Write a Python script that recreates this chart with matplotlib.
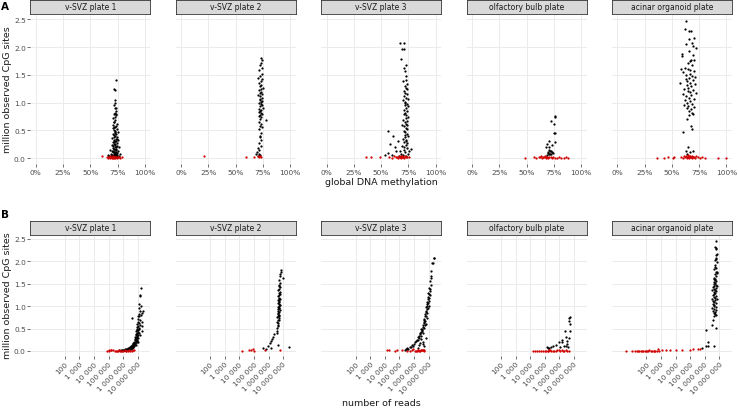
import matplotlib
matplotlib.use("Agg")
import matplotlib.pyplot as plt
from matplotlib.ticker import FixedLocator, NullLocator
import numpy as np

# ---------------- data ----------------
plates = ["v-SVZ plate 1", "v-SVZ plate 2", "v-SVZ plate 3",
          "olfactory bulb plate", "acinar organoid plate"]

# ---- v-SVZ plate 1 : passing cells (methylation %, million CpG, log10 reads)
p1_meth_ok = [73.5, 72.0, 73.0, 72.5, 72.8, 71.8, 73.8, 72.2, 73.5, 71.5, 74.0, 72.5, 70.5, 73.0,
              72.0, 74.5, 71.0, 73.2, 72.6, 70.8, 74.2, 71.9, 73.0, 75.0, 72.3, 70.5, 73.6, 71.4,
              72.8, 74.6, 72.0, 70.2, 73.3, 71.7, 75.5, 72.5, 73.9, 70.9, 72.1, 74.2, 71.3, 73.0,
              69.8, 72.7, 74.8, 71.0, 73.4, 72.2, 70.4, 74.0, 71.8, 73.1, 72.5, 69.5, 75.8, 71.2,
              73.7, 72.0, 70.6, 74.4, 72.9, 71.5, 68.8, 73.5, 72.3, 70.0, 74.9, 71.9, 73.2, 69.2,
              72.6, 76.5, 71.0, 73.8, 67.5, 72.2, 70.3, 74.5, 65.8, 77.0, 76.0, 68.5, 74.5, 72.0,
              73.0, 71.5, 74.0, 73.0]
p1_cpg_ok = [1.41, 1.25, 1.22, 1.05, 1.00, 0.95, 0.90, 0.82, 0.80, 0.79, 0.77, 0.74, 0.72, 0.68,
             0.65, 0.62, 0.60, 0.58, 0.56, 0.54, 0.52, 0.50, 0.49, 0.47, 0.46, 0.44, 0.43, 0.41,
             0.40, 0.38, 0.37, 0.36, 0.35, 0.33, 0.32, 0.31, 0.30, 0.29, 0.28, 0.27, 0.26, 0.25,
             0.24, 0.23, 0.22, 0.21, 0.20, 0.19, 0.18, 0.17, 0.16, 0.15, 0.14, 0.13, 0.13, 0.12,
             0.11, 0.10, 0.10, 0.09, 0.09, 0.08, 0.08, 0.07, 0.07, 0.06, 0.06, 0.05, 0.05, 0.04,
             0.04, 0.04, 0.03, 0.03, 0.03, 0.02, 0.02, 0.02, 0.05, 0.08, 0.20, 0.15, 0.35, 0.55,
             0.45, 0.65, 0.85, 0.90]
p1_lreads_ok = [7.23, 7.18, 7.15, 7.12, 7.20, 7.08, 7.14, 7.10, 7.22, 7.05, 7.12, 6.60, 7.00, 7.15,
                7.05, 7.10, 6.98, 7.18, 7.02, 6.95, 7.08, 6.97, 7.12, 7.05, 6.92, 6.90, 7.00, 6.95,
                7.08, 6.98, 6.88, 6.85, 7.02, 6.93, 6.96, 6.82, 7.05, 6.87, 6.95, 6.90, 6.80, 6.98,
                6.78, 6.88, 6.94, 6.75, 6.85, 6.92, 6.70, 6.82, 6.65, 6.78, 6.72, 6.60, 6.85, 6.62,
                6.75, 6.55, 6.68, 6.70, 6.50, 6.45, 6.60, 6.62, 6.35, 6.40, 6.58, 6.25, 6.48, 6.20,
                6.30, 6.55, 6.05, 6.15, 6.00, 5.85, 5.70, 5.95, 6.10, 6.65, 6.99, 6.72, 7.15, 7.30,
                7.28, 7.32, 7.30, 7.38]
p1_meth_fail = [60.5, 65.0, 66.5, 67.5, 68.0, 69.0, 69.5, 70.0, 70.5, 71.0, 71.5, 72.0, 72.5, 73.0,
                73.5, 74.0, 74.5, 75.0, 76.0, 77.0, 79.0, 68.5, 70.8, 72.8]
p1_cpg_fail = [0.03, 0.01, 0.00, 0.02, 0.00, 0.01, 0.00, 0.02, 0.00, 0.01, 0.00, 0.02, 0.01, 0.00,
               0.02, 0.01, 0.00, 0.02, 0.01, 0.00, 0.01, 0.03, 0.03, 0.02]
p1_lreads_fail = [5.20, 4.90, 5.05, 5.30, 5.45, 5.55, 5.65, 5.75, 5.85, 5.95, 6.00, 6.10, 6.20, 6.30,
                  6.40, 6.50, 6.60, 6.75, 5.50, 6.20, 5.80, 5.15, 5.00, 6.65]

# ---- v-SVZ plate 2
p2_meth_ok = [73.0, 74.0, 73.5, 72.0, 74.5, 71.5, 73.8, 72.5, 70.5, 74.2, 72.8, 71.2, 73.5, 72.0,
              74.6, 72.9, 71.6, 73.3, 72.2, 74.0, 70.8, 72.7, 73.9, 71.9, 72.5, 74.4, 73.1, 71.3,
              72.8, 73.7, 72.1, 74.8, 71.7, 73.4, 72.4, 70.9, 73.0, 74.1, 72.6, 71.5, 73.6, 72.0,
              78.0, 71.0, 73.2, 72.3, 73.8, 71.8, 72.9, 72.5, 72.0, 73.0, 71.5, 72.8, 70.5, 71.0,
              69.5, 68.5, 72.5, 70.0, 71.8]
p2_cpg_ok = [1.80, 1.76, 1.72, 1.68, 1.62, 1.58, 1.52, 1.48, 1.45, 1.42, 1.38, 1.35, 1.32, 1.29,
             1.27, 1.24, 1.22, 1.19, 1.17, 1.15, 1.13, 1.11, 1.09, 1.07, 1.05, 1.03, 1.01, 0.99,
             0.97, 0.95, 0.93, 0.91, 0.89, 0.87, 0.85, 0.83, 0.81, 0.79, 0.77, 0.75, 0.73, 0.70,
             0.68, 0.65, 0.62, 0.58, 0.55, 0.52, 0.45, 0.40, 0.38, 0.32, 0.27, 0.22, 0.18, 0.14,
             0.10, 0.07, 0.06, 0.04, 0.08]
p2_lreads_ok = [6.82, 6.85, 6.80, 6.78, 7.00, 6.75, 6.80, 6.72, 6.70, 6.78, 6.74, 6.68, 6.76, 6.70,
                6.80, 6.72, 6.66, 6.74, 6.69, 6.77, 6.64, 6.71, 6.75, 6.67, 6.70, 6.78, 6.73, 6.65,
                6.69, 6.74, 6.66, 6.76, 6.63, 6.71, 6.68, 6.62, 6.70, 6.74, 6.66, 6.60, 6.72, 6.64,
                6.70, 6.58, 6.68, 6.62, 6.66, 6.56, 6.60, 6.55, 6.39, 6.30, 6.23, 6.14, 6.08, 6.67,
                5.95, 5.62, 6.20, 5.80, 7.41]
p2_meth_fail = [20.5, 59.5, 67.0, 70.5, 71.5, 72.5, 73.0]
p2_cpg_fail = [0.03, 0.01, 0.02, 0.04, 0.02, 0.03, 0.01]
p2_lreads_fail = [4.65, 4.15, 4.83, 4.95, 5.75, 6.77, 5.00]

# ---- v-SVZ plate 3
p3_meth_ok = [67.0, 70.7, 69.5, 71.0, 68.6, 73.0, 71.0, 72.3, 73.0, 72.5, 70.5, 73.5, 71.5, 72.8,
              74.0, 70.8, 72.2, 73.6, 71.3, 72.9, 74.5, 70.2, 72.0, 73.3, 71.7, 74.2, 72.5, 70.9,
              73.8, 72.1, 71.2, 73.0, 74.8, 72.4, 70.4, 73.5, 71.8, 72.9, 74.0, 71.0, 72.6, 73.9,
              70.7, 72.2, 56.0, 73.4, 71.5, 61.0, 74.6, 72.0, 70.0, 73.1, 65.5, 71.2, 74.0, 58.6,
              72.5, 69.0, 62.5, 73.6, 77.8, 70.8, 63.8, 76.0, 72.0, 56.0, 68.0, 74.5, 54.0, 70.5,
              66.0, 72.8, 60.0, 67.5, 71.0, 73.0, 69.5, 72.0]
p3_cpg_ok = [2.07, 2.07, 1.96, 1.96, 1.78, 1.68, 1.63, 1.57, 1.48, 1.41, 1.38, 1.33, 1.30, 1.27,
             1.24, 1.21, 1.18, 1.15, 1.12, 1.09, 1.06, 1.04, 1.01, 0.98, 0.95, 0.93, 0.90, 0.87,
             0.85, 0.82, 0.79, 0.77, 0.74, 0.72, 0.69, 0.67, 0.64, 0.62, 0.59, 0.57, 0.54, 0.52,
             0.49, 0.47, 0.49, 0.44, 0.42, 0.40, 0.39, 0.37, 0.34, 0.33, 0.31, 0.29, 0.27, 0.25,
             0.24, 0.22, 0.19, 0.18, 0.16, 0.15, 0.13, 0.13, 0.11, 0.09, 0.08, 0.07, 0.06, 0.05,
             0.04, 0.03, 0.05, 0.12, 0.20, 0.30, 0.60, 1.00]
p3_lreads_ok = [7.34, 7.36, 7.25, 7.28, 7.18, 7.15, 7.20, 7.10, 7.14, 7.05, 7.12, 7.08, 6.98, 7.02,
                7.10, 6.95, 7.00, 6.93, 7.04, 6.90, 6.98, 6.88, 6.92, 6.85, 6.95, 6.88, 6.80, 6.84,
                6.90, 6.78, 6.75, 6.82, 6.86, 6.70, 6.72, 6.76, 6.66, 6.68, 6.74, 6.60, 6.62, 6.70,
                6.52, 6.58, 6.45, 6.55, 6.48, 6.40, 6.62, 6.42, 6.38, 6.50, 6.30, 6.35, 6.45, 6.20,
                6.28, 6.15, 6.05, 6.40, 6.60, 6.00, 5.90, 6.35, 5.95, 5.70, 5.80, 6.25, 5.55, 5.60,
                5.45, 5.40, 5.50, 6.70, 6.65, 6.80, 6.85, 7.02]
p3_meth_fail = [36.5, 40.5, 49.0, 57.0, 60.0, 62.0, 63.5, 64.5, 65.5, 66.5, 67.0, 67.5, 68.0, 68.5,
                69.0, 69.5, 70.0, 70.5, 71.0, 72.0, 73.0, 74.0, 76.0]
p3_cpg_fail = [0.02, 0.02, 0.01, 0.02, 0.00, 0.03, 0.01, 0.02, 0.00, 0.03, 0.01, 0.02, 0.04, 0.00,
               0.02, 0.03, 0.01, 0.02, 0.00, 0.03, 0.02, 0.01, 0.02]
p3_lreads_fail = [4.15, 4.26, 4.72, 4.83, 5.50, 5.84, 6.07, 6.30, 6.40, 6.63, 6.70, 5.20, 5.95, 6.20,
                  6.45, 6.55, 6.35, 6.60, 6.15, 6.50, 6.68, 5.70, 6.25]

# ---- olfactory bulb plate
p4_meth_ok = [76.3, 76.0, 72.5, 75.3, 74.8, 76.0, 70.7, 76.0, 69.0, 73.8, 67.7, 70.5, 71.0, 71.5,
              72.5, 70.0, 73.0, 69.5, 71.8, 72.8, 70.8, 74.0, 68.5]
p4_cpg_ok = [0.76, 0.73, 0.66, 0.61, 0.45, 0.45, 0.31, 0.28, 0.25, 0.23, 0.19, 0.19, 0.15, 0.13,
             0.12, 0.11, 0.10, 0.09, 0.08, 0.08, 0.07, 0.09, 0.06]
p4_lreads_ok = [6.73, 6.68, 6.64, 6.70, 6.38, 6.72, 6.45, 6.68, 6.16, 6.55, 6.00, 6.20, 6.52, 5.80,
                6.45, 5.58, 6.30, 5.40, 5.13, 6.05, 5.30, 6.62, 5.25]
p4_meth_fail = [49.0, 57.0, 59.0, 61.0, 62.0, 63.0, 64.0, 65.0, 66.0, 67.0, 67.5, 68.0, 69.0, 70.0,
                71.0, 72.0, 73.0, 74.0, 76.0, 78.0, 80.0, 82.0, 84.0, 86.0, 88.0]
p4_cpg_fail = [0.00, 0.01, 0.00, 0.02, 0.01, 0.03, 0.00, 0.02, 0.01, 0.03, 0.00, 0.02, 0.01, 0.00,
               0.02, 0.01, 0.00, 0.01, 0.00, 0.00, 0.01, 0.00, 0.00, 0.01, 0.00]
p4_lreads_fail = [4.17, 5.25, 4.50, 5.85, 4.75, 5.30, 5.00, 6.15, 5.45, 5.35, 4.35, 6.45, 5.65, 4.60,
                  5.95, 5.10, 6.68, 5.55, 4.90, 6.25, 5.75, 5.20, 6.35, 6.05, 6.55]

# ---- acinar organoid plate
p5_meth_ok = [63.3, 62.4, 65.7, 67.9, 70.3, 66.0, 68.5, 69.0, 72.3, 66.0, 59.2, 59.6, 69.0, 67.5,
              70.5, 65.0, 68.0, 62.0, 58.0, 64.5, 67.0, 70.0, 60.5, 66.5, 63.0, 68.5, 71.5, 65.5,
              62.5, 69.5, 64.0, 66.8, 57.0, 70.8, 63.5, 67.8, 65.2, 61.5, 69.2, 64.8, 66.2, 71.8,
              60.0, 67.5, 63.2, 65.8, 69.8, 62.0, 66.5, 64.2, 68.2, 61.0, 65.0, 70.5, 63.8, 67.2,
              66.0, 68.8, 69.5, 65.5, 67.6, 68.5, 60.3, 64.0, 66.8, 63.0, 65.0, 62.5, 69.0, 64.0,
              67.0]
p5_cpg_ok = [2.46, 2.32, 2.29, 2.28, 2.16, 2.15, 2.08, 2.02, 1.99, 1.92, 1.87, 1.83, 1.85, 1.77,
             1.77, 1.72, 1.68, 1.63, 1.61, 1.60, 1.58, 1.56, 1.55, 1.52, 1.50, 1.48, 1.46, 1.44,
             1.42, 1.40, 1.38, 1.36, 1.35, 1.33, 1.31, 1.29, 1.27, 1.25, 1.23, 1.21, 1.19, 1.17,
             1.15, 1.13, 1.11, 1.09, 1.07, 1.05, 1.03, 1.00, 0.98, 0.96, 0.94, 0.92, 0.90, 0.88,
             0.85, 0.82, 0.80, 0.78, 0.58, 0.52, 0.47, 0.70, 1.75, 2.05, 0.20, 0.12, 0.12, 0.07,
             0.10]
p5_lreads_ok = [6.75, 6.72, 6.78, 6.80, 6.82, 6.74, 6.77, 6.70, 6.84, 6.73, 6.68, 6.66, 6.79, 6.76,
                6.81, 6.70, 6.74, 6.62, 6.60, 6.68, 6.72, 6.78, 6.64, 6.70, 6.62, 6.76, 6.82, 6.66,
                6.58, 6.74, 6.64, 6.70, 6.52, 6.80, 6.60, 6.72, 6.65, 6.56, 6.76, 6.62, 6.68, 6.84,
                6.50, 6.70, 6.58, 6.64, 6.78, 6.54, 6.66, 6.60, 6.74, 6.48, 6.62, 6.80, 6.56, 6.70,
                6.64, 6.72, 6.76, 6.60, 6.48, 6.77, 6.09, 6.55, 6.86, 6.80, 6.20, 6.25, 6.64, 5.80,
                6.10]
p5_meth_fail = [36.0, 43.0, 46.0, 51.0, 52.0, 58.0, 60.0, 61.0, 62.0, 63.0, 63.5, 64.0, 64.5, 65.0,
                65.5, 66.0, 66.5, 67.0, 67.5, 68.0, 68.5, 69.0, 70.0, 71.0, 72.0, 74.0, 76.0, 78.0,
                80.0, 92.0, 100.0]
p5_cpg_fail = [0.00, 0.00, 0.01, 0.00, 0.01, 0.02, 0.00, 0.03, 0.01, 0.04, 0.02, 0.00, 0.05, 0.01,
               0.03, 0.00, 0.02, 0.04, 0.01, 0.00, 0.03, 0.02, 0.01, 0.00, 0.04, 0.01, 0.00, 0.01,
               0.00, 0.00, 0.00]
p5_lreads_fail = [1.50, 2.30, 1.80, 2.60, 1.23, 3.05, 2.00, 4.46, 1.70, 5.57, 2.20, 0.59, 5.70, 2.40,
                  4.96, 1.35, 3.59, 5.18, 2.10, 1.00, 4.05, 3.36, 2.70, 1.90, 2.80, 2.50, 1.60, 2.90,
                  1.45, 2.05, 2.55]

ok_meth = [p1_meth_ok, p2_meth_ok, p3_meth_ok, p4_meth_ok, p5_meth_ok]
ok_cpg = [p1_cpg_ok, p2_cpg_ok, p3_cpg_ok, p4_cpg_ok, p5_cpg_ok]
ok_lreads = [p1_lreads_ok, p2_lreads_ok, p3_lreads_ok, p4_lreads_ok, p5_lreads_ok]
fail_meth = [p1_meth_fail, p2_meth_fail, p3_meth_fail, p4_meth_fail, p5_meth_fail]
fail_cpg = [p1_cpg_fail, p2_cpg_fail, p3_cpg_fail, p4_cpg_fail, p5_cpg_fail]
fail_lreads = [p1_lreads_fail, p2_lreads_fail, p3_lreads_fail, p4_lreads_fail, p5_lreads_fail]

y_ticks = [0.0, 0.5, 1.0, 1.5, 2.0, 2.5]
meth_ticks = [0.0, 0.25, 0.5, 0.75, 1.0]
meth_labels = ["0%", "25%", "50%", "75%", "100%"]
read_ticks = [1e2, 1e3, 1e4, 1e5, 1e6, 1e7]
read_labels = ["100", "1 000", "10 000", "100 000", "1 000 000", "10 000 000"]

# ---------------- drawing ----------------
W, H = 738, 410
plt.rcParams['font.family'] = ['DejaVu Sans']
fig = plt.figure(figsize=(W / 100, H / 100), dpi=100)
fig.patch.set_facecolor('white')

def rect(left, top, w, h):
    return [left / W, 1 - (top + h) / H, w / W, h / H]

BLACK = '#000000'
RED = '#D10000'
GRID = '#EBEBEB'
TICKC = '#333333'
LABC = '#4D4D4D'
PT = 2.6

lefts = [30.3 + i * 145.4 for i in range(5)]
pw = 120.0
ylim = (-0.108, 2.577)

rows = [dict(strip_top=1.0, ax_top=16.0, ax_h=149.0),
        dict(strip_top=222.0, ax_top=236.5, ax_h=120.3)]

def strip(left, top, label):
    sa = fig.add_axes(rect(left, top, pw, 14.0))
    sa.set_facecolor('#D9D9D9')
    for s in sa.spines.values():
        s.set_color('#333333')
        s.set_linewidth(0.6)
    sa.set_xticks([]); sa.set_yticks([])
    sa.text(0.5, 0.5, label, ha='center', va='center', fontsize=5.5, color='#1A1A1A',
            transform=sa.transAxes)

def style(ax, first):
    ax.set_facecolor('white')
    for s in ax.spines.values():
        s.set_visible(False)
    ax.grid(True, which='major', color=GRID, linewidth=0.7, zorder=0)
    ax.set_axisbelow(True)
    ax.set_ylim(*ylim)
    ax.set_yticks(y_ticks)
    ax.yaxis.set_minor_locator(NullLocator())
    if first:
        ax.set_yticklabels([f"{v:.1f}" for v in y_ticks])
        ax.tick_params(axis='y', length=2.0, width=0.5, color=TICKC, labelsize=5.3,
                       labelcolor=LABC, pad=1.2)
    else:
        ax.tick_params(axis='y', length=0, labelleft=False)

for r, row in enumerate(rows):
    for i in range(5):
        strip(lefts[i], row['strip_top'], plates[i])
        ax = fig.add_axes(rect(lefts[i], row['ax_top'], pw, row['ax_h']))
        style(ax, i == 0)
        if r == 0:
            ax.scatter(np.array(ok_meth[i]) / 100, ok_cpg[i], s=PT, c=BLACK, linewidths=0, zorder=3)
            ax.scatter(np.array(fail_meth[i]) / 100, fail_cpg[i], s=PT, c=RED, linewidths=0, zorder=3)
            ax.set_xlim(-0.05, 1.05)
            ax.set_xticks(meth_ticks)
            ax.set_xticklabels(meth_labels)
            ax.tick_params(axis='x', length=2.0, width=0.5, color=TICKC, labelsize=5.3,
                           labelcolor=LABC, pad=1.5)
        else:
            ax.set_xscale('log')
            ax.scatter(10 ** np.array(ok_lreads[i]), ok_cpg[i], s=PT, c=BLACK, linewidths=0, zorder=3)
            ax.scatter(10 ** np.array(fail_lreads[i]), fail_cpg[i], s=PT, c=RED, linewidths=0, zorder=3)
            ax.set_xlim(10 ** -0.36, 10 ** 7.86)
            ax.xaxis.set_major_locator(FixedLocator(read_ticks))
            ax.xaxis.set_minor_locator(NullLocator())
            ax.set_xticklabels(read_labels, rotation=45, ha='right', rotation_mode='anchor')
            ax.tick_params(axis='x', length=2.0, width=0.5, color=TICKC, labelsize=5.3,
                           labelcolor=LABC, pad=1.5)

# axis titles
fig.text(381 / W, 1 - 183 / H, "global DNA methylation", ha='center', va='center', fontsize=6.8,
         color='#1A1A1A')
fig.text(381 / W, 1 - 404 / H, "number of reads", ha='center', va='center', fontsize=6.8,
         color='#1A1A1A')
fig.text(8 / W, 1 - 90 / H, "million observed CpG sites", ha='center', va='center', fontsize=6.8,
         rotation=90, color='#1A1A1A')
fig.text(8 / W, 1 - 296 / H, "million observed CpG sites", ha='center', va='center', fontsize=6.8,
         rotation=90, color='#1A1A1A')
fig.text(5 / W, 1 - 7 / H, "A", ha='center', va='center', fontsize=7.5, fontweight='bold')
fig.text(5 / W, 1 - 215 / H, "B", ha='center', va='center', fontsize=7.5, fontweight='bold')

fig.savefig("out.png", dpi=100, facecolor='white')
